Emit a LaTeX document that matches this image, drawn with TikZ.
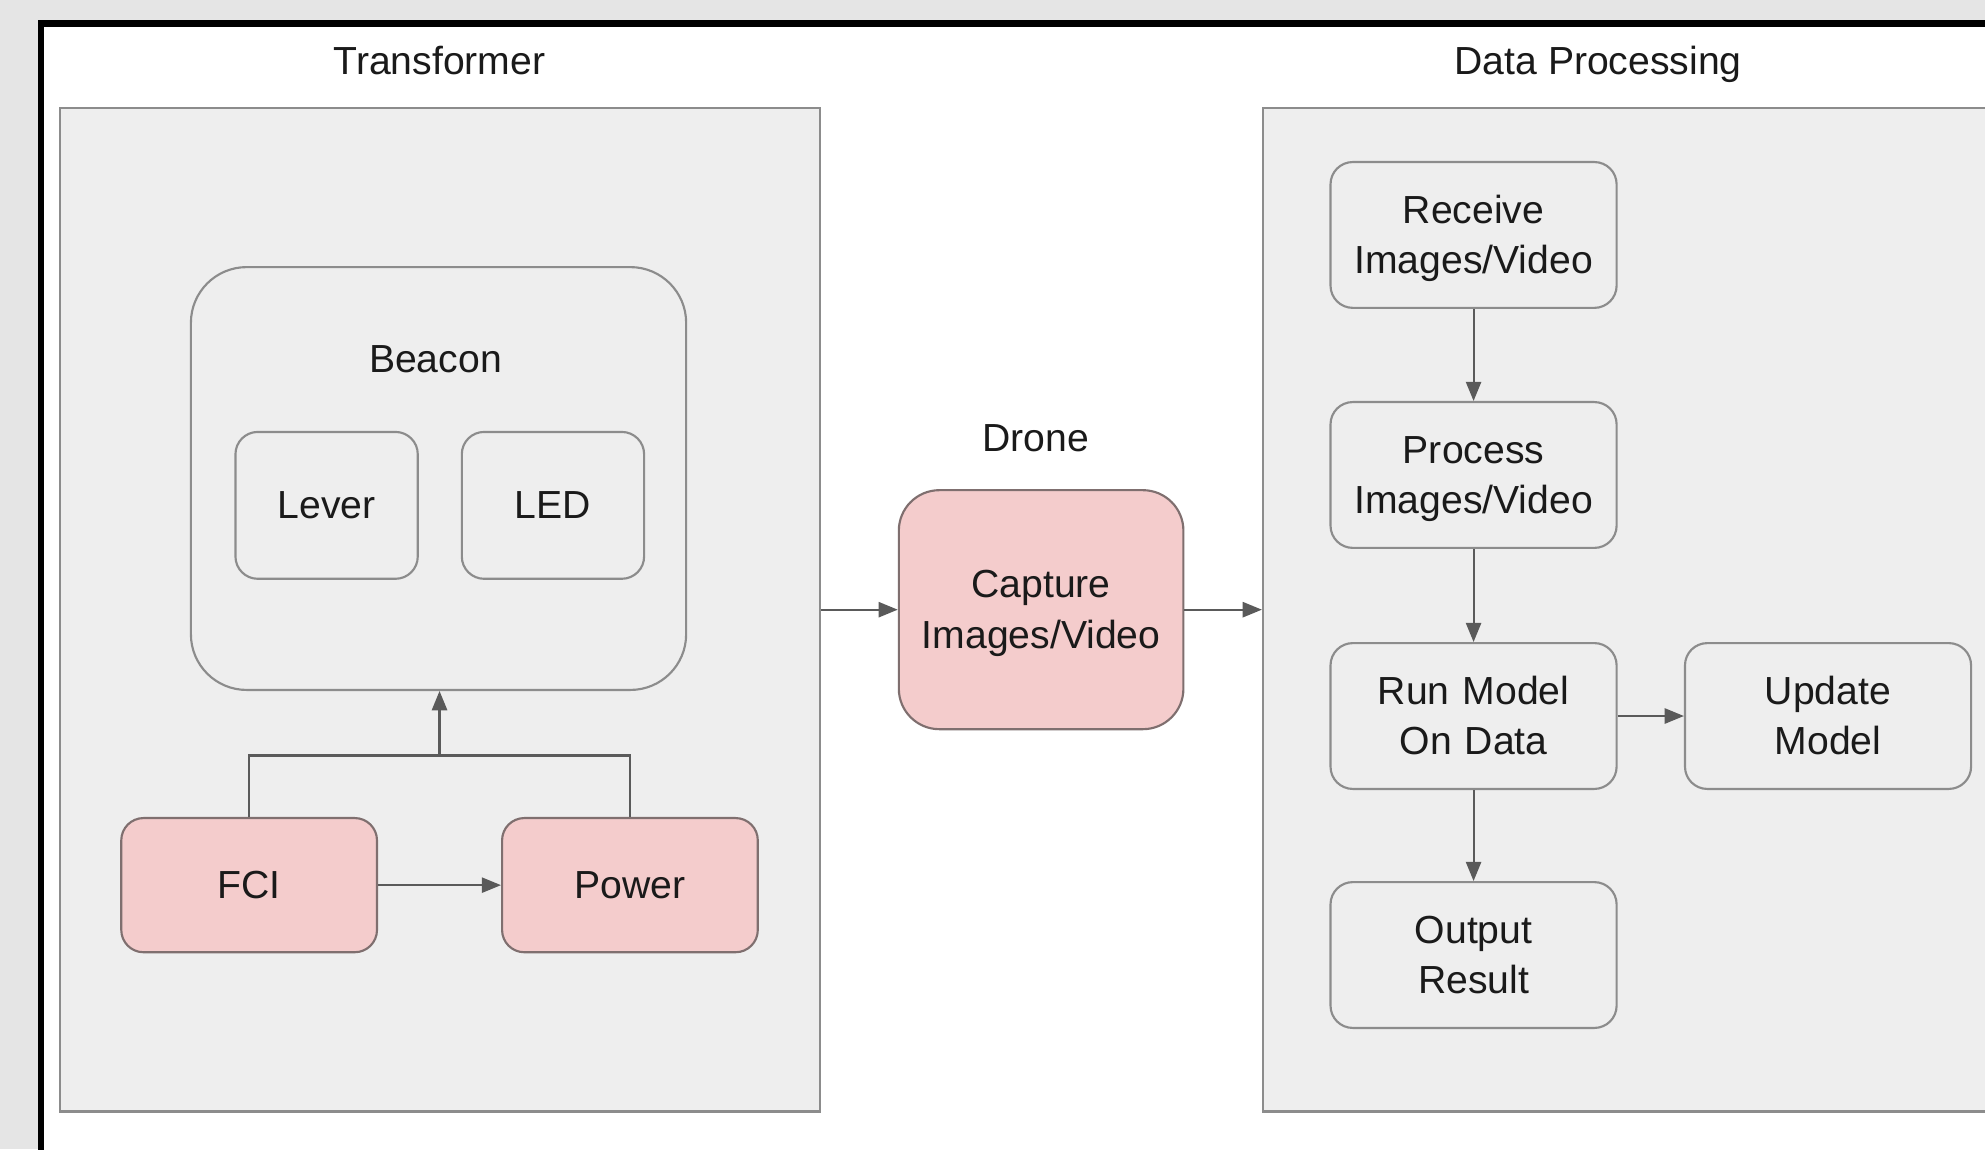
\documentclass[tikz,border=0pt]{standalone}
\usepackage{fontspec}
\setmainfont{Liberation Sans}
\usetikzlibrary{arrows.meta}

\definecolor{outerGrey}{HTML}{E5E5E5}
\definecolor{panelGrey}{HTML}{EEEEEE}
\definecolor{lineGrey}{HTML}{8C8C8C}
\definecolor{arrowGrey}{HTML}{5A5A5A}
\definecolor{pinkFill}{HTML}{F4CCCC}
\definecolor{pinkLine}{HTML}{7F6F6F}
\definecolor{textGrey}{HTML}{1A1A1A}

\begin{document}
\begin{tikzpicture}[scale=1.0,
font=\fontsize{11}{14.2}\selectfont, text=textGrey,
rectPanel/.style={rectangle, draw=lineGrey, fill=panelGrey, line width=0.6pt, inner sep=0pt},
rectGroup/.style={rectangle, draw=lineGrey, fill=panelGrey, line width=0.6pt, inner sep=0pt, rounded corners=5.5mm},
rectPart/.style={rectangle, draw=lineGrey, fill=panelGrey, line width=0.6pt, inner sep=0pt, minimum width=18mm, minimum height=14.5mm, rounded corners=2.2mm},
rectHardware/.style={rectangle, draw=pinkLine, fill=pinkFill, line width=0.6pt, inner sep=0pt, minimum width=25.25mm, minimum height=13.25mm, rounded corners=2.2mm},
rectStep/.style={rectangle, draw=lineGrey, fill=panelGrey, line width=0.6pt, inner sep=0pt, minimum width=28.25mm, minimum height=14.4mm, text width=28mm, align=center, text height=2.8mm, text depth=5.15mm, rounded corners=2.2mm},
rectCapture/.style={rectangle, draw=pinkLine, fill=pinkFill, line width=0.6pt, inner sep=0pt, minimum width=28.1mm, minimum height=23.6mm, text width=28mm, align=center, text height=2.8mm, text depth=5.15mm, rounded corners=4mm},
title/.style={text height=3.4mm, text depth=0.65mm},
flow/.style={draw=arrowGrey, line width=0.6pt, -{Triangle[length=1.9mm, width=1.5mm]}}
]

\clip (0, 0) rectangle (19.6, -11.35);
\fill[outerGrey] (0, 0) rectangle (19.6, -11.35);
\draw[black, fill=white, line width=1.8pt] (0.406, -0.231) rectangle (21, -12);

% Transformer
\node[rectPanel, minimum width=75.1mm, minimum height=99.1mm] (Transformer) at (4.344, -6.02) {};
\node[title] at (4.34, -0.6) {Transformer};

\node[rectGroup, minimum width=48.9mm, minimum height=41.75mm] (Beacon) at (4.33, -4.725) {};
\node[title] at (4.3, -3.54) {Beacon};
\node[rectPart] (Lever) at (3.225, -4.99) {Lever};
\node[rectPart] (LED) at (5.46, -4.99) {LED};

\node[rectHardware] (FCI) at (2.46, -8.74) {FCI};
\node[rectHardware] (Power) at (6.22, -8.74) {Power};
\coordinate (join) at (4.34, -7.46);

% Drone
\node[title] at (10.225, -4.325) {Drone};
\node[rectCapture] (Capture) at (10.28, -6.02) {Capture\\Images/Video};

% Data Processing
\node[rectPanel, minimum width=90mm, minimum height=99.1mm, anchor=west] (DataProcessing) at (12.46, -6.02) {};
\node[title] at (15.78, -0.6) {Data Processing};

\node[rectStep] (Receive) at (14.55, -2.32) {Receive\\Images/Video};
\node[rectStep] (Process) at (14.55, -4.69) {Process\\Images/Video};
\node[rectStep] (RunModel) at (14.55, -7.07) {Run Model\\On Data};
\node[rectStep] (Output) at (14.55, -9.43) {Output\\Result};
\node[rectStep] (Update) at (18.05, -7.07) {Update\\Model};

\draw[draw=arrowGrey, line width=0.6pt] (FCI.north) |- (join) -| (Power.north);

\path   (join)           edge[flow] (join |- Beacon.south)
        (FCI)            edge[flow] (Power)
        (Transformer)    edge[flow] (Capture)
        (Capture)        edge[flow] (DataProcessing.west |- Capture.east)
        (Receive)        edge[flow] (Process)
        (Process)        edge[flow] (RunModel)
        (RunModel)       edge[flow] (Output)
        (RunModel)       edge[flow] (Update);

\end{tikzpicture}
\end{document}
